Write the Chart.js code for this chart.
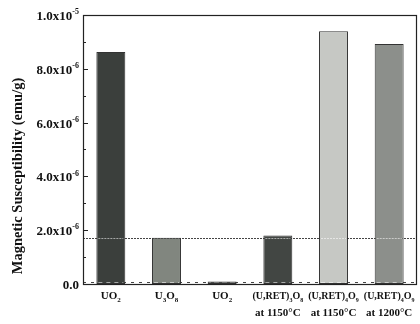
<!DOCTYPE html>
<html>
<head>
<meta charset="utf-8">
<script src="https://cdn.jsdelivr.net/npm/chart.js@4"></script>
<style>
  html, body { margin: 0; padding: 0; background: #fff; }
  #wrap { width: 420px; height: 324px; }
</style>
</head>
<body>
<div id="wrap"><canvas id="chart" width="420" height="324"></canvas></div>
<script>
// categories (multi-line x labels)
var categories = [
    ['UO₂'],
    ['U₃O₈'],
    ['UO₂'],
    ['(U,RET)₃O₈', 'at 1150°C'],
    ['(U,RET)₄O₉', 'at 1150°C'],
    ['(U,RET)₄O₉', 'at 1200°C']
];
// magnetic susceptibility, emu/g
var susceptibility = [8.62e-6, 1.72e-6, 0.09e-6, 1.80e-6, 9.40e-6, 8.92e-6];
// dotted reference levels
var refLevels = [1.70e-6, 0.08e-6];
// y tick labels, one per 1e-6 step from 0
var yTickLabels = ['0.0', '', '2.0x10⁻⁶', '', '4.0x10⁻⁶', '', '6.0x10⁻⁶', '', '8.0x10⁻⁶', '', '1.0x10⁻⁵'];
var yTitle = 'Magnetic Susceptibility (emu/g)';

var barColors = ['#3b3f3c', '#81867f', '#5a5d5a', '#424643', '#c6c8c4', '#8c8f8b'];
var serif = '"Liberation Serif", "Times New Roman", serif';

var SUB = '₀₁₂₃₄₅₆₇₈₉';
var SUP = '⁰¹²³⁴⁵⁶⁷⁸⁹⁻';
var SUP_PLAIN = '0123456789-';

// split a string into normal / sub / sup runs
function splitRich(text) {
    var runs = [];
    for (var i = 0; i < text.length; i++) {
        var ch = text[i], kind = 'n', c = ch;
        if (SUB.indexOf(ch) >= 0) { kind = 'sub'; c = String(SUB.indexOf(ch)); }
        else if (SUP.indexOf(ch) >= 0) { kind = 'sup'; c = SUP_PLAIN[SUP.indexOf(ch)]; }
        if (runs.length && runs[runs.length - 1].kind === kind) {
            runs[runs.length - 1].text += c;
        } else {
            runs.push({ kind: kind, text: c });
        }
    }
    return runs;
}

function drawRich(ctx, text, x, y, align, size) {
    var runs = splitRich(text);
    var small = Math.round(size * 0.62);
    var total = 0;
    runs.forEach(function(r) {
        ctx.font = 'bold ' + (r.kind === 'n' ? size : small) + 'px ' + serif;
        r.w = ctx.measureText(r.text).width;
        total += r.w;
    });
    var cx = align === 'right' ? x - total : (align === 'center' ? x - total / 2 : x);
    ctx.textAlign = 'left';
    ctx.textBaseline = 'alphabetic';
    runs.forEach(function(r) {
        var dy = 0;
        if (r.kind === 'sub') dy = size * 0.25;
        if (r.kind === 'sup') dy = -size * 0.45;
        ctx.font = 'bold ' + (r.kind === 'n' ? size : small) + 'px ' + serif;
        ctx.fillText(r.text, cx, y + dy);
        cx += r.w;
    });
}

function dotted(ctx, x0, x1, py, dash, color) {
    ctx.setLineDash(dash);
    ctx.strokeStyle = color;
    ctx.beginPath();
    ctx.moveTo(x0, py);
    ctx.lineTo(x1, py);
    ctx.stroke();
}

var decorPlugin = {
    id: 'decor',
    beforeDatasetsDraw: function(chart) {
        var ctx = chart.ctx, area = chart.chartArea, y = chart.scales.y;
        ctx.save();
        ctx.lineWidth = 1;
        refLevels.forEach(function(v, i) {
            var py = Math.round(y.getPixelForValue(v)) + 0.5;
            dotted(ctx, area.left, area.right, py, i === 0 ? [2, 1] : [3, 5], '#444');
        });
        ctx.restore();
    },
    afterDatasetsDraw: function(chart) {
        var ctx = chart.ctx, area = chart.chartArea, y = chart.scales.y, x = chart.scales.x;
        ctx.save();
        ctx.lineWidth = 1;

        // light dashes where the reference lines cross a bar
        var bars = chart.getDatasetMeta(0).data;
        refLevels.forEach(function(v, i) {
            var py = Math.round(y.getPixelForValue(v)) + 0.5;
            bars.forEach(function(b) {
                if (b.y < py - 2) {
                    dotted(ctx, b.x - b.width / 2 + 2, b.x + b.width / 2 - 2, py,
                        i === 0 ? [2, 1] : [4, 4], 'rgba(255,255,255,0.55)');
                }
            });
        });
        ctx.setLineDash([]);

        // inward y ticks
        ctx.strokeStyle = '#222';
        y.ticks.forEach(function(t) {
            var idx = Math.round(t.value / 1e-6);
            var py = Math.round(y.getPixelForValue(t.value)) + 0.5;
            ctx.beginPath();
            ctx.moveTo(area.left, py);
            ctx.lineTo(area.left + (idx % 2 === 0 ? 5 : 3), py);
            ctx.stroke();
        });

        // box
        ctx.lineWidth = 1.2;
        ctx.strokeRect(area.left + 0.5, area.top + 0.5, area.right - area.left - 1, area.bottom - area.top);

        // y tick labels
        ctx.fillStyle = '#111';
        y.ticks.forEach(function(t) {
            var label = yTickLabels[Math.round(t.value / 1e-6)];
            if (label) {
                drawRich(ctx, label, area.left - 4, y.getPixelForValue(t.value) + 5, 'right', 13);
            }
        });

        // x labels
        categories.forEach(function(lines, i) {
            var px = x.getPixelForValue(i);
            lines.forEach(function(line, j) {
                var size = line.length > 9 ? 10 : 11;
                drawRich(ctx, line, px, area.bottom + 15 + j * 17, 'center', size);
            });
        });

        // y title
        ctx.save();
        ctx.translate(22, 176);
        ctx.rotate(-Math.PI / 2);
        ctx.font = 'bold 14.5px ' + serif;
        ctx.textAlign = 'center';
        ctx.textBaseline = 'alphabetic';
        ctx.fillText(yTitle, 0, 0);
        ctx.restore();

        ctx.restore();
    }
};

new Chart(document.getElementById('chart'), {
    type: 'bar',
    data: {
        labels: categories,
        datasets: [{
            data: susceptibility,
            backgroundColor: barColors,
            borderColor: '#333',
            borderWidth: 1,
            borderSkipped: false,
            barPercentage: 0.52,
            categoryPercentage: 1.0
        }]
    },
    options: {
        responsive: false,
        animation: false,
        layout: { padding: { top: 15, right: 3, left: 0, bottom: 0 } },
        plugins: {
            legend: { display: false },
            tooltip: { enabled: false }
        },
        scales: {
            x: {
                grid: { display: false, drawTicks: false },
                border: { display: false },
                ticks: { display: false },
                afterFit: function(scale) { scale.height = 40; }
            },
            y: {
                min: 0,
                max: 1e-5,
                grid: { display: false, drawTicks: false },
                border: { display: false },
                ticks: { display: false, stepSize: 1e-6, autoSkip: false },
                afterFit: function(scale) { scale.width = 83; }
            }
        }
    },
    plugins: [decorPlugin]
});
</script>
</body>
</html>
